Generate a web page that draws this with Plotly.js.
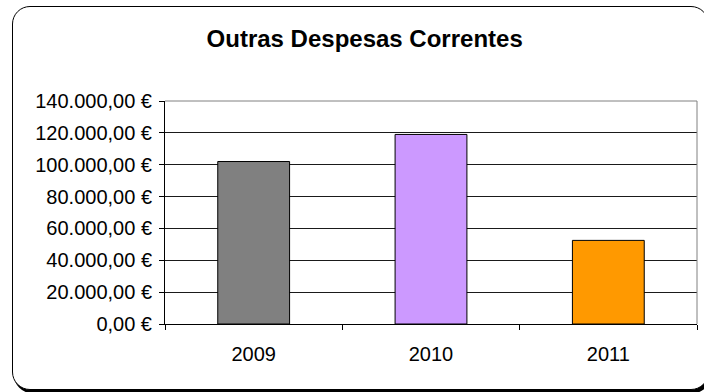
<!DOCTYPE html>
<html>
<head>
<meta charset="utf-8">
<script src="https://cdn.plot.ly/plotly-3.0.1.min.js"></script>
<style>
  html, body { margin: 0; padding: 0; background: #fff; }
  #wrap { position: relative; width: 704px; height: 392px; overflow: hidden; }
  #frame {
    position: absolute; left: 12px; top: 6px; width: 695px; height: 382px;
    border: 1.5px solid #000; border-radius: 18px;
    box-shadow: 2px 3px 0 #000; background: #fff;
  }
  #chart { position: absolute; left: 0; top: 0; width: 704px; height: 392px; }
</style>
</head>
<body>
<div id="wrap">
  <div id="frame"></div>
  <div id="chart"></div>
</div>
<script>
// Outras Despesas Correntes, por ano
const years = ['2009', '2010', '2011'];
const values = [102000, 119000, 52500];
const barColors = ['#808080', '#CC99FF', '#FF9900'];
const yTicks = [0, 20000, 40000, 60000, 80000, 100000, 120000, 140000];

// euro amounts written as 140.000,00 €
function euro(v) {
  const int = Math.floor(v).toString().replace(/\B(?=(\d{3})+(?!\d))/g, '.');
  return int + ',00 €';
}
const yTickText = yTicks.map(euro);

const trace = {
  type: 'bar',
  x: years,
  y: values,
  marker: { color: barColors, line: { color: '#000', width: 1 } },
  hoverinfo: 'skip'
};

const font = 'Liberation Sans, Arial, sans-serif';

const layout = {
  width: 704,
  height: 392,
  margin: { l: 165, r: 7, t: 101, b: 68 },
  paper_bgcolor: 'rgba(0,0,0,0)',
  plot_bgcolor: '#fff',
  showlegend: false,
  bargap: 0.595,
  font: { family: font, color: '#000' },
  title: {
    text: '<b>Outras Despesas Correntes</b>',
    font: { family: font, size: 24, color: '#000' },
    x: 0.518, xref: 'container', xanchor: 'center',
    y: 0.901, yref: 'container', yanchor: 'middle'
  },
  xaxis: {
    type: 'category',
    showline: true, linecolor: '#000', linewidth: 1,
    ticks: 'outside', tickson: 'boundaries', ticklen: 5, tickcolor: '#000',
    tickfont: { family: font, size: 20, color: '#000' },
    ticklabelstandoff: 12,
    showgrid: false
  },
  yaxis: {
    range: [0, 140000],
    tickmode: 'array',
    tickvals: yTicks,
    ticktext: yTickText,
    showline: true, linecolor: '#000', linewidth: 1,
    ticks: 'outside', ticklen: 5, tickcolor: '#000',
    tickfont: { family: font, size: 20, color: '#000' },
    ticklabelstandoff: 3,
    showgrid: true, gridcolor: '#1a1a1a', gridwidth: 1,
    zeroline: false
  },
  shapes: [
    { type: 'line', xref: 'paper', yref: 'paper', x0: 0, x1: 1, y0: 1, y1: 1,
      line: { color: '#808080', width: 1 }, layer: 'above' },
    { type: 'line', xref: 'paper', yref: 'paper', x0: 1, x1: 1, y0: 0, y1: 1,
      line: { color: '#808080', width: 1 }, layer: 'above' }
  ]
};

Plotly.newPlot('chart', [trace], layout, { staticPlot: true, displayModeBar: false });
</script>
</body>
</html>
